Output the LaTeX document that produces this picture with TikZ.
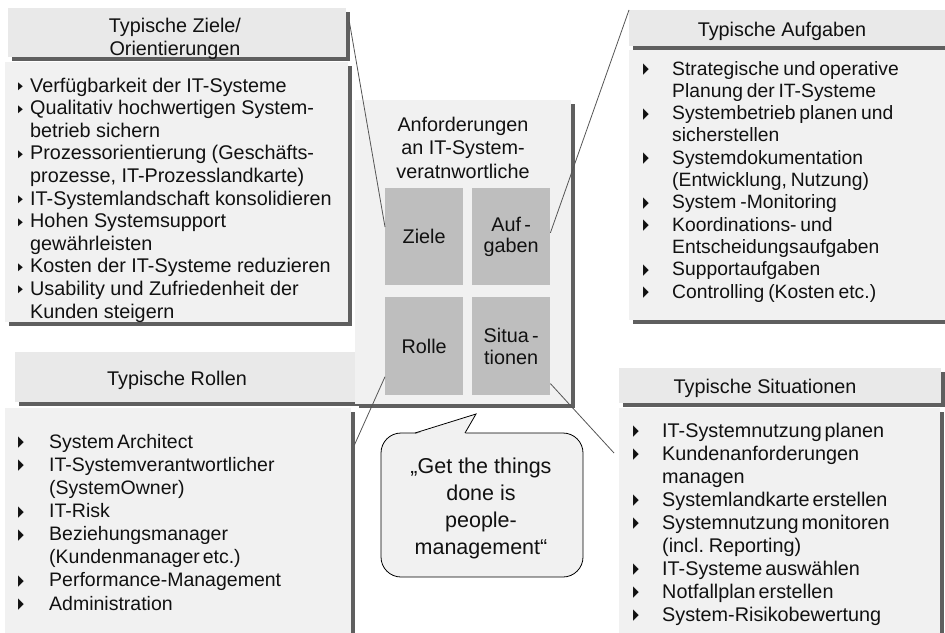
\documentclass[tikz,border=0pt]{standalone}
\usepackage{fontspec}
\setmainfont{Liberation Sans}
\newfontfamily\symfont{DejaVu Sans}
\usetikzlibrary{calc,shadows}

\definecolor{headfill}{HTML}{E9E9E9}
\definecolor{bodyfill}{HTML}{F1F1F1}
\definecolor{cellfill}{HTML}{BEBEBE}
\definecolor{shadowgray}{HTML}{5F5F5F}
\definecolor{linkgray}{HTML}{555555}
\definecolor{inkblack}{HTML}{111111}

% bullet glyphs: narrow black triangles
\newcommand\smtri{\raisebox{2.5pt}{\scalebox{0.6}[1]{\symfont\fontsize{10.5}{10.5}\selectfont ▶}}}
\newcommand\bgtri{\raisebox{1.5pt}{\scalebox{0.5}[1]{\symfont\fontsize{15}{15}\selectfont ▶}}}
\newcommand\sitem{\makebox[12pt][l]{\smtri}}
\newcommand\bitem[1]{\makebox[#1][l]{\bgtri}}
\newcommand\cont[1]{\hspace*{#1}}

% type sizes
\newcommand\headfont{\fontsize{19.8}{23}\selectfont}
\newcommand\listA{\fontsize{19.8}{22.6}\selectfont}
\newcommand\listB{\fontsize{19.3}{22.3}\selectfont\spaceskip=0.2em plus 0.05em\relax}
\newcommand\listC{\fontsize{19.5}{23.1}\selectfont\spaceskip=0.15em plus 0.05em\relax}
\newcommand\listD{\fontsize{19.8}{23}\selectfont\spaceskip=0.15em plus 0.05em\relax}
\newcommand\titlefont{\fontsize{19.8}{23.5}\selectfont}
\newcommand\cellfont{\fontsize{19.8}{21.5}\selectfont}
\newcommand\quotefont{\fontsize{21.5}{27}\selectfont}

\begin{document}
\begin{tikzpicture}[x=1pt,y=-1pt,
  box/.style={rectangle, draw=none, inner sep=0pt, anchor=north west,
    drop shadow={shadow xshift=3.5pt,shadow yshift=-3.5pt,fill=shadowgray,opacity=1}},
  headbox/.style={box, fill=headfill},
  bodybox/.style={box, fill=bodyfill},
  cell/.style={rectangle, fill=cellfill, inner sep=0pt, anchor=north west,
    minimum width=78pt, align=center, font=\cellfont, text=inkblack},
  % multi-line texts are placed by the baseline of their last line
  listtext/.style={anchor=base west, inner sep=0pt, align=left, text=inkblack},
  headtext/.style={anchor=base, inner sep=0pt, align=center, font=\headfont, text=inkblack},
  link/.style={draw=linkgray, line width=0.8pt},
  bubble/.style={rectangle, rounded corners=20pt, draw=black, line width=0.8pt,
    fill=bodyfill, minimum width=202pt, minimum height=144pt}]

\useasboundingbox (0,0) rectangle (945,632);

% --- goals (top left)
\node[headbox, minimum width=338pt, minimum height=49pt] (tlh) at (8,8) {};
\node[bodybox, minimum width=343pt, minimum height=260pt] (tlb) at (5,62) {};
\node[headtext] (tlht) at (175,55) {Typische Ziele/\\Orientierungen};
\node[listtext, font=\listA] (tll) at (18,318) {%
\sitem Verfügbarkeit der IT-Systeme\\
\sitem Qualitativ hochwertigen System-\\
\cont{12pt}betrieb sichern\\
\sitem Prozessorientierung (Geschäfts-\\
\cont{12pt}prozesse, IT-Prozesslandkarte)\\
\sitem IT-Systemlandschaft konsolidieren\\
\sitem Hohen Systemsupport\\
\cont{12pt}gewährleisten\\
\sitem Kosten der IT-Systeme reduzieren\\
\sitem Usability und Zufriedenheit der\\
\cont{12pt}Kunden steigern};

% --- tasks (top right)
\node[headbox, minimum width=330pt, minimum height=36pt] (trh) at (629,10) {};
\node[bodybox, minimum width=330pt, minimum height=270pt] (trb) at (629,50) {};
\node[headtext] (trht) at (782,36) {Typische Aufgaben};
\node[listtext, font=\listB] (trl) at (643,298) {%
\bitem{29pt}Strategische und operative\\
\cont{29pt}Planung der IT-Systeme\\
\bitem{29pt}Systembetrieb planen und\\
\cont{29pt}sicherstellen\\
\bitem{29pt}Systemdokumentation\\
\cont{29pt}(Entwicklung, Nutzung)\\
\bitem{29pt}System -Monitoring\\
\bitem{29pt}Koordinations- und\\
\cont{29pt}Entscheidungsaufgaben\\
\bitem{29pt}Supportaufgaben\\
\bitem{29pt}Controlling (Kosten etc.)};

% --- roles (bottom left)
\node[headbox, minimum width=340pt, minimum height=50pt] (blh) at (15,352) {};
\node[bodybox, minimum width=346pt, minimum height=240pt] (blb) at (5,408) {};
\node[headtext] (blht) at (177,385) {Typische Rollen};
\node[listtext, font=\listC] (bll) at (18,610) {%
\bitem{31pt}System Architect\\
\bitem{31pt}IT-Systemverantwortlicher\\
\cont{31pt}(SystemOwner)\\
\bitem{31pt}IT-Risk\\
\bitem{31pt}Beziehungsmanager\\
\cont{31pt}(Kundenmanager etc.)\\
\bitem{31pt}Performance-Management\\
\bitem{31pt}Administration};

% --- situations (bottom right)
\node[headbox, minimum width=322pt, minimum height=35pt] (brh) at (619,368) {};
\node[bodybox, minimum width=321pt, minimum height=240pt] (brb) at (619,408) {};
\node[headtext] (brht) at (765,393) {Typische Situationen};
\node[listtext, font=\listD] (brl) at (633,621) {%
\bitem{29pt}IT-Systemnutzung planen\\
\bitem{29pt}Kundenanforderungen\\
\cont{29pt}managen\\
\bitem{29pt}Systemlandkarte erstellen\\
\bitem{29pt}Systemnutzung monitoren\\
\cont{29pt}(incl. Reporting)\\
\bitem{29pt}IT-Systeme auswählen\\
\bitem{29pt}Notfallplan erstellen\\
\bitem{29pt}System-Risikobewertung};

% --- central requirement block
\node[bodybox, minimum width=216pt, minimum height=304pt] (core) at (355,100) {};
\node[headtext, font=\titlefont] (coret) at (463,178) {Anforderungen\\an IT-System-\\veratnwortliche};
\node[cell, minimum height=97pt] (ziele) at (385,188) {Ziele};
\node[cell, minimum height=97pt] (aufg) at (472,188) {Auf\,-\\gaben};
\node[cell, minimum height=98pt] (rolle) at (385,297) {Rolle};
\node[cell, minimum height=98pt] (situ) at (472,297) {Situa\,-\\tionen};

% --- connectors from the quadrants to the detail boxes
\draw[link] ($(tlh.north east)+(3,14)$) -- ($(ziele.north west)!0.4!(ziele.south west)$);
\draw[link] (trh.north west) -- ($(aufg.north east)!0.46!(aufg.south east)$);
\draw[link] ($(rolle.south west)!0.19!(rolle.north west)$) -- ($(blb.north east)+(3,37)$);
\draw[link] ($(situ.south east)!0.12!(situ.north east)$) -- ($(brb.north west)+(-5,45)$);

% --- speech bubble
\node[bubble] (bub) at (482,505) {};
\fill[bodyfill] (415,434.2) -- (476,414) -- (465,434.2) -- cycle;
\draw[line width=0.8pt] (415,433) -- (476,414) -- (465,433);
\node[anchor=base, inner sep=0pt, align=center, font=\quotefont, text=inkblack] (quote) at (481,554)
  {„Get the things\\done is\\people-\\management“};

\end{tikzpicture}
\end{document}
